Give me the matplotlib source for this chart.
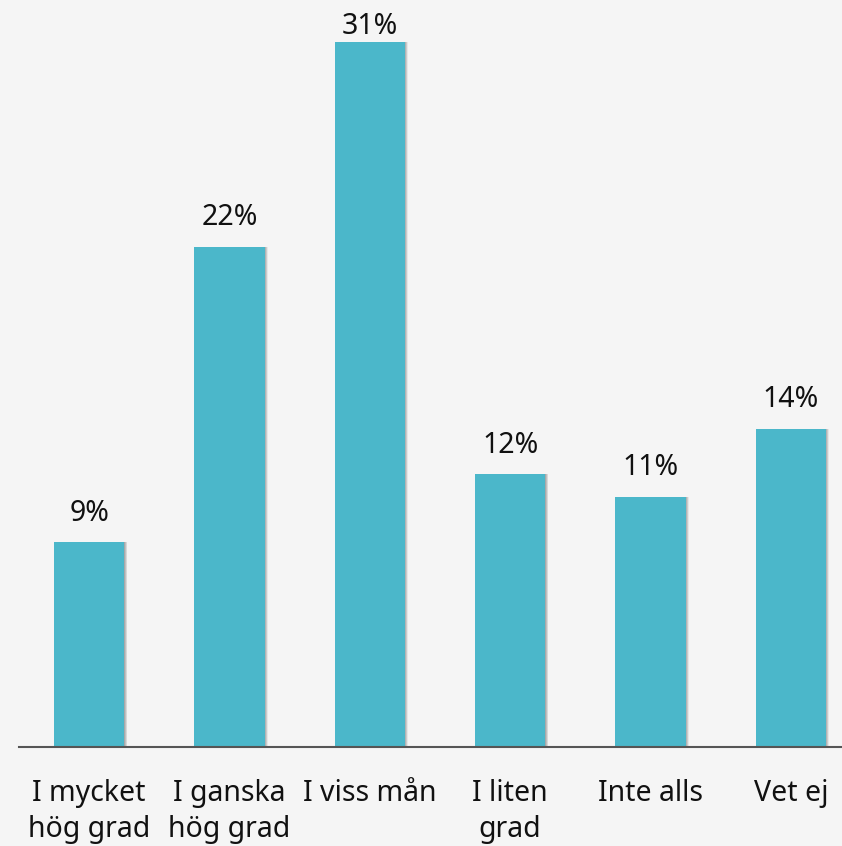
import matplotlib.pyplot as plt
import numpy as np

categories = ["I mycket\nhög grad", "I ganska\nhög grad", "I viss mån", "I liten\ngrad", "Inte alls", "Vet ej"]
values = [9, 22, 31, 12, 11, 14]

bar_color = "#4bb7ca"
bg = "#f5f5f5"

plt.rcParams['font.family'] = ['Noto Sans', 'DejaVu Sans']

fig = plt.figure(figsize=(8.42, 8.46), dpi=100, facecolor=bg)
ax = fig.add_axes([19 / 842, 99 / 846, 842 / 842, 747 / 846])
ax.set_facecolor(bg)

x = np.arange(len(values))

# soft shadow to the right of each bar
for k in range(1, 7):
    ax.bar(x + k * 0.0035, values, width=0.5, color="#000000", alpha=0.06, zorder=1)
ax.bar(x, values, width=0.5, color=bar_color, zorder=3)

ymax = 32.85
for xi, v in zip(x, values):
    # labels sit above the bar, but are kept inside the plot at the top
    ty = min(v + 0.95, ymax - 1.5)
    ax.text(xi, ty, f"{v}%", ha="center", va="baseline", fontsize=20.5, color="#111111")

ax.set_xlim(-0.5, 5.5)
ax.set_ylim(0, ymax)
ax.set_xticks(x)
ax.set_xticklabels(categories, fontsize=20.5, color="#111111", linespacing=1.33)
ax.tick_params(axis="x", length=0, pad=23)
ax.set_yticks([])
for s in ["top", "right", "left"]:
    ax.spines[s].set_visible(False)
ax.spines["bottom"].set_color("#555555")
ax.spines["bottom"].set_linewidth(1.5)
ax.spines["bottom"].set_zorder(4)

fig.savefig("out.png", dpi=100, facecolor=bg)
